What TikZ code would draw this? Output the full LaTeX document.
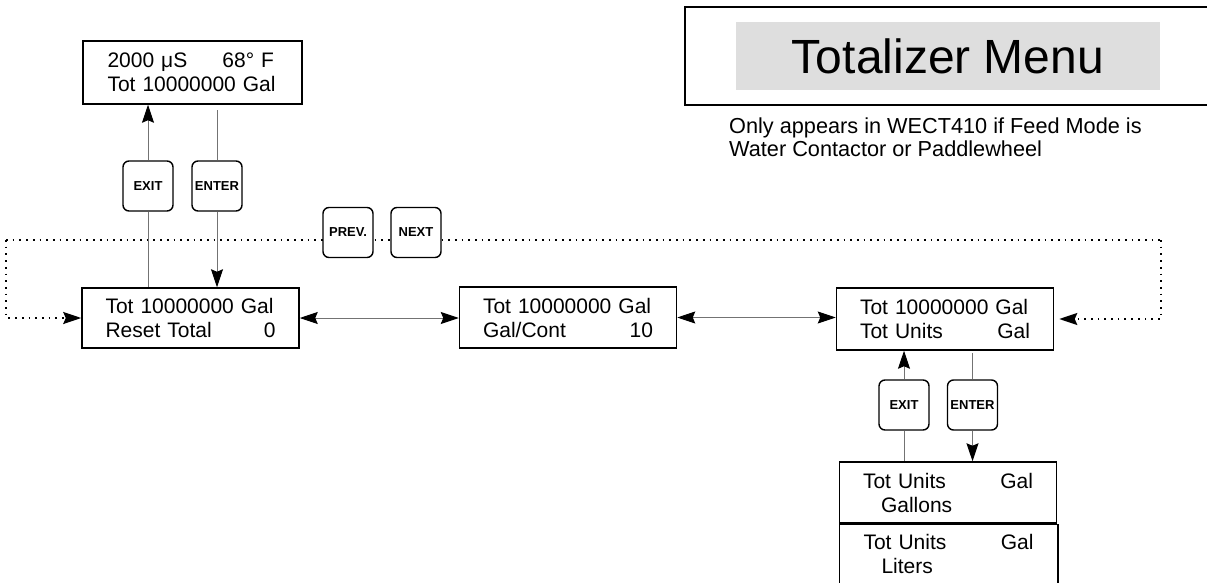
\documentclass[tikz,border=0pt]{standalone}
\usepackage{fontspec}
\setmainfont{Liberation Sans}
\usetikzlibrary{arrows.meta}

\newcommand{\lcdfill}{\hskip 0pt plus 1filll}

\tikzset{
  lcd/.style={draw, line width=1.5pt, text width=170pt, align=left, minimum width=217pt,
    minimum height=60pt, inner ysep=0pt, font=\fontsize{21}{24}\selectfont},
  key/.style={draw, fill=white, line width=1.4pt, rounded corners=6pt, minimum size=50pt,
    inner sep=0pt, font=\fontsize{13}{15}\selectfont\bfseries},
  conn/.style={draw=black!55, line width=1pt},
  headto/.style={-{Stealth[length=18pt,width=12pt,inset=2.5pt,color=black]}},
  headboth/.style={{Stealth[length=18pt,width=12pt,inset=2.5pt,color=black]}-{Stealth[length=18pt,width=12pt,inset=2.5pt,color=black]}},
  dots/.style={line width=1.7pt, dash pattern=on 1.7pt off 5pt},
}

\begin{document}
\begin{tikzpicture}[x=1pt,y=-1pt]
	\useasboundingbox (0,0) rectangle (1207,583);

	% title
	\draw[line width=1.5pt] (1207,7) -| (685,105) -- (1207,105);
	\node[fill=black!13, minimum width=424pt, minimum height=68pt, font=\fontsize{48}{50}\selectfont] (title) at (948,56) {Totalizer Menu};
	\node[anchor=north west, align=left, inner sep=0pt, font=\fontsize{21.7}{23}\selectfont] (note) at (729,118) {Only appears in WECT410 if Feed Mode is\\Water Contactor or Paddlewheel};

	% displays
	\node[lcd, minimum width=219pt, minimum height=63pt] (main) at (192.5,72.5) {\makebox[115pt][l]{2000 μS}68° F\\Tot 10000000 Gal};
	\node[lcd] (tot1) at (190.5,318) {Tot 10000000 Gal\\Reset Total\lcdfill 0};
	\node[lcd, minimum height=61pt] (gal) at (568,317.5) {Tot 10000000 Gal\\Gal/Cont\lcdfill 10};
	\node[lcd, minimum height=62pt] (units) at (945,319) {Tot 10000000 Gal\\Tot Units\lcdfill Gal};
	\node[lcd, minimum height=61pt] (gallons) at (948,492.5) {Tot Units\lcdfill Gal\\\hspace*{18pt}Gallons};
	\node[lcd, draw=none, minimum height=58pt] (liters) at (948.5,554) {Tot Units\lcdfill Gal\\\hspace*{18pt}Liters};
	\draw[line width=1.5pt] (liters.south west) |- (liters.north east) -- (liters.south east);

	% prev / next loop
	\coordinate (loopL) at (6,240);
	\coordinate (loopR) at (1161,240);
	\draw[dots] (loopL) -- (loopR);
	\draw[dots,headto] (loopL) |- (tot1.west);
	\draw[dots,headto,shorten >=5pt] (loopR) |- (units.east);

	% keys
	\node[key] (exitA) at (148,186) {EXIT};
	\node[key] (enterA) at (217,186) {ENTER};
	\node[key] (prev) at (348,232.5) {PREV.};
	\node[key] (next) at (416,232.5) {NEXT};
	\node[key] (exitB) at (904,405) {EXIT};
	\node[key] (enterB) at (972.5,405) {ENTER};

	\draw[conn] (exitA.south) -- (exitA.south |- tot1.north);
	\draw[conn,headto] (exitA.north) -- (exitA.north |- main.south);
	\draw[conn,shorten >=5pt] (enterA.north) -- (enterA.north |- main.south);
	\draw[conn,headto] (enterA.south) -- (enterA.south |- tot1.north);

	\draw[conn,headboth] (tot1.east) -- (tot1.east -| gal.west);
	\draw[conn,headboth] (gal.east) -- (gal.east -| units.west);

	\draw[conn] (exitB.south) -- (exitB.south |- gallons.north);
	\draw[conn,headto] (exitB.north) -- (exitB.north |- units.south);
	\draw[conn,shorten >=2pt] (enterB.north) -- (enterB.north |- units.south);
	\draw[conn,headto] (enterB.south) -- (enterB.south |- gallons.north);
\end{tikzpicture}
\end{document}
